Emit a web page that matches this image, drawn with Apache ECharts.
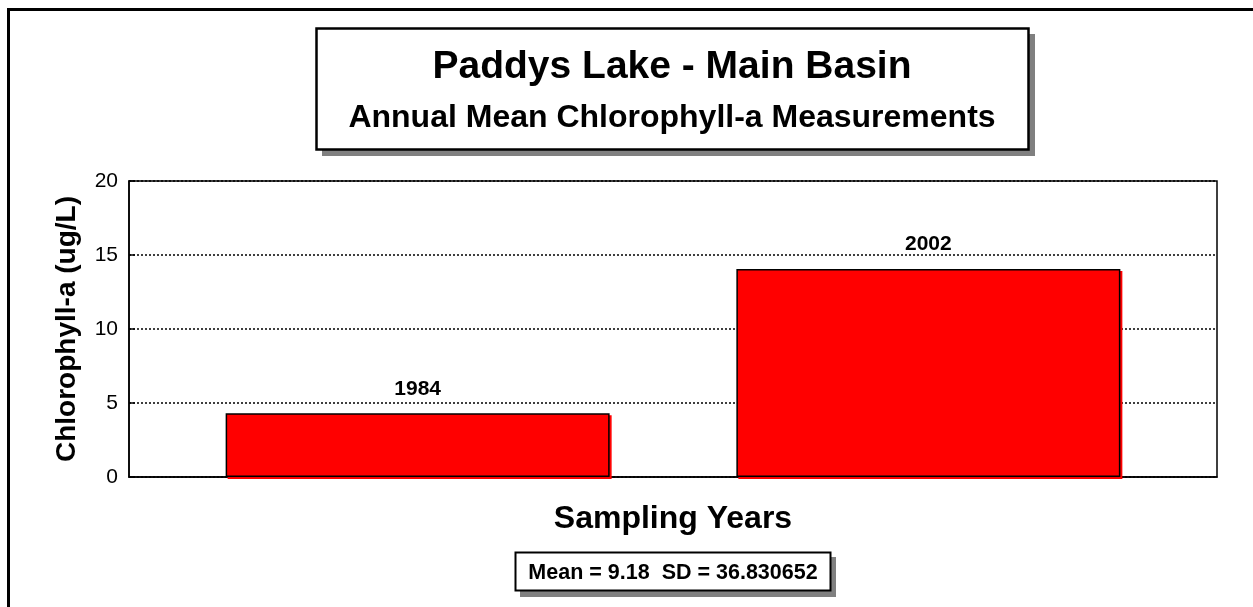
<!DOCTYPE html>
<html>
<head>
<meta charset="utf-8">
<title>Paddys Lake - Main Basin</title>
<script src="https://cdn.jsdelivr.net/npm/echarts@6/dist/echarts.min.js"></script>
<style>
  html, body { margin: 0; padding: 0; background: #fff; }
  #chart { width: 1253px; height: 607px; }
</style>
</head>
<body>
<div id="chart"></div>
<script>
// data
const years = ['1984', '2002']
const chlorophyll = [4.3, 14.06]
const yTicks = [0, 5, 10, 15, 20]
const statsText = 'Mean = 9.18  SD = 36.830652'

const font = '"Liberation Sans"'

const chart = echarts.init(document.getElementById('chart'))

// one category, each year is its own series (bars sit side by side)
const series = years.map((y, i) => ({
  name: y,
  type: 'bar',
  data: [chlorophyll[i]],
  barWidth: 384,
  barGap: '33%',
  itemStyle: {
    color: '#ff0000',
    borderColor: '#000',
    borderWidth: 1.5,
    shadowColor: '#ff0000',
    shadowOffsetX: 2,
    shadowOffsetY: 2
  },
  label: {
    show: true,
    position: 'top',
    distance: 14,
    formatter: y,
    color: '#000',
    fontFamily: font,
    fontWeight: 'bold',
    fontSize: 21
  }
}))

const option = {
  backgroundColor: '#fff',
  animation: false,
  grid: {
    left: 129,
    top: 181,
    right: 36,
    bottom: 130,
    show: true,
    borderColor: '#000',
    borderWidth: 1.5
  },
  xAxis: {
    type: 'category',
    data: [''],
    name: 'Sampling Years',
    nameLocation: 'middle',
    nameGap: 26,
    nameTextStyle: { fontFamily: font, fontWeight: 'bold', fontSize: 32, color: '#000' },
    axisLine: { lineStyle: { color: '#000', width: 1.5 } },
    axisTick: { show: false },
    axisLabel: { show: false }
  },
  yAxis: {
    type: 'value',
    min: yTicks[0],
    max: yTicks[yTicks.length - 1],
    interval: yTicks[1] - yTicks[0],
    name: 'Chlorophyll-a (ug/L)',
    nameLocation: 'middle',
    nameRotate: 90,
    nameGap: 48,
    nameTextStyle: { fontFamily: font, fontWeight: 'bold', fontSize: 28, color: '#000' },
    axisLine: { show: true, lineStyle: { color: '#000', width: 1.5 } },
    axisTick: { show: true, inside: true, length: 6, lineStyle: { color: '#000', width: 1.5 } },
    axisLabel: { margin: 11, fontFamily: font, fontSize: 21, color: '#000' },
    splitLine: { show: true, lineStyle: { color: '#000', type: [2, 2], width: 1.5 } }
  },
  series: series,
  graphic: [
    // outer frame, top and left only
    {
      type: 'polyline',
      shape: { points: [[8.5, 607], [8.5, 9.5], [1253, 9.5]] },
      style: { stroke: '#000', lineWidth: 3, fill: null }
    },
    // title box with shadow
    { type: 'rect', shape: { x: 322, y: 34, width: 713, height: 122 }, style: { fill: '#808080' } },
    { type: 'rect', shape: { x: 316.5, y: 28.5, width: 712, height: 121 }, style: { fill: '#fff', stroke: '#000', lineWidth: 2.5 } },
    {
      type: 'text', x: 672, y: 67,
      style: { text: 'Paddys Lake - Main Basin', font: 'bold 39px ' + font, fill: '#000', textAlign: 'center', textVerticalAlign: 'middle' }
    },
    {
      type: 'text', x: 672, y: 118,
      style: { text: 'Annual Mean Chlorophyll-a Measurements', font: 'bold 32px ' + font, fill: '#000', textAlign: 'center', textVerticalAlign: 'middle' }
    },
    // stats box with shadow
    { type: 'rect', shape: { x: 520, y: 557, width: 316, height: 40 }, style: { fill: '#808080' } },
    { type: 'rect', shape: { x: 515.5, y: 552.5, width: 315, height: 38 }, style: { fill: '#fff', stroke: '#000', lineWidth: 2 } },
    {
      type: 'text', x: 673, y: 573,
      style: { text: statsText, font: 'bold 21.5px ' + font, fill: '#000', textAlign: 'center', textVerticalAlign: 'middle' }
    }
  ]
}

chart.setOption(option)
</script>
</body>
</html>
